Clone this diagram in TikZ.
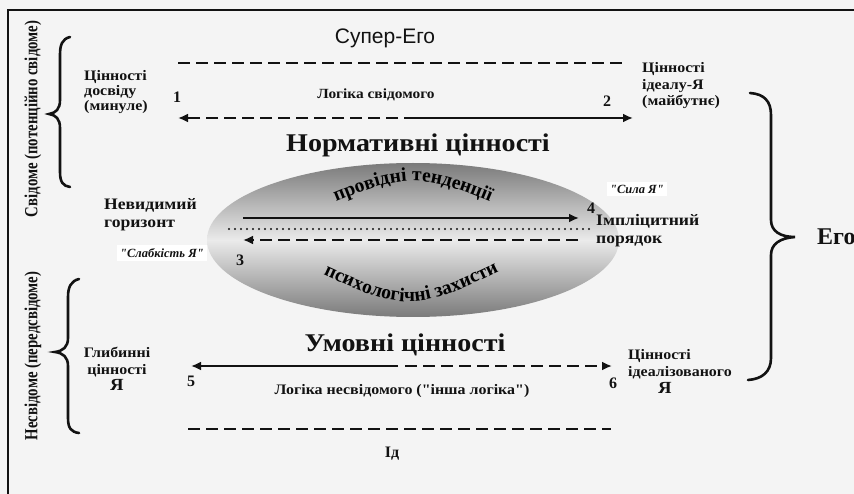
\documentclass[tikz,border=0pt]{standalone}
\usepackage{fontspec}
\setmainfont{Liberation Serif}[Ligatures=TeXOff]
\newfontfamily\sansf{Liberation Sans}[Ligatures=TeXOff]
\newfontfamily\condf{Liberation Serif}[FakeStretch=0.8,Ligatures=TeXOff]
\newfontfamily\widef{Liberation Serif}[FakeStretch=1.1,Ligatures=TeXOff]
\usetikzlibrary{arrows.meta,decorations.text}
\definecolor{bg}{RGB}{244,244,244}
\definecolor{ink}{RGB}{18,18,18}
\begin{document}
\begin{tikzpicture}[x=1pt,y=-1pt,
  every node/.style={inner sep=0pt,text=ink},
  lbl/.style={font=\widef\bfseries\fontsize{14.5}{15}\selectfont},
  mid/.style={font=\widef\bfseries\fontsize{16}{18}\selectfont},
  big/.style={font=\widef\bfseries\fontsize{25.5}{28}\selectfont},
  num/.style={font=\bfseries\fontsize{16}{16}\selectfont},
  ital/.style={font=\bfseries\itshape\fontsize{12.5}{13}\selectfont,fill=white,inner sep=3pt},
  vert/.style={font=\condf\bfseries\fontsize{18.5}{18}\selectfont,rotate=90},
  dsh/.style={draw=ink,line width=2.6pt,dash pattern=on 12pt off 6pt},
  sol/.style={draw=ink,line width=2.2pt},
  arr/.style={-{Latex[length=10pt,width=9pt]}},
  brc/.style={draw=ink,line width=2.6pt,line cap=round}]
\useasboundingbox (0,0) rectangle (854,494);
\fill[bg] (0,0) rectangle (854,494);
\draw[ink,line width=1.5pt] (8,494) -- (8,10) -- (854,10);

% side labels
\node[vert] (cons) at (33,119) {Свідоме (потенційно свідоме)};
\node[vert] (uncons) at (33,356) {Несвідоме (передсвідоме)};

% braces
\draw[brc] (70,37) .. controls (62,39) and (60,45) .. (60,55) -- (60,100)
  .. controls (60,109) and (56,113) .. (49,114)
  .. controls (56,115) and (60,119) .. (60,128) -- (60,172)
  .. controls (60,182) and (63,186) .. (70,187);
\draw[brc] (79,279) .. controls (71,281) and (68,287) .. (68,297) -- (68,338)
  .. controls (68,347) and (63,351) .. (55,352)
  .. controls (63,353) and (68,357) .. (68,366) -- (68,418)
  .. controls (68,428) and (71,432) .. (79,433);
\draw[brc] (750,93) .. controls (764,94) and (771,101) .. (771,115) -- (771,220)
  .. controls (771,231) and (780,237) .. (795,237)
  .. controls (780,238) and (771,244) .. (771,255) -- (771,358)
  .. controls (771,372) and (762,379) .. (748,380);
\node[font=\bfseries\fontsize{24}{24}\selectfont,anchor=west] (ego) at (817,237) {Его};

% top part
\node[font=\sansf\fontsize{21}{21}\selectfont] (super) at (385,38) {Супер-Его};
\coordinate (t1) at (178,63); \coordinate (t2) at (622,63);
\draw[dsh] (t1) -- (t2);
\node[lbl,align=left,anchor=west] (past) at (84,92) {Цінності\\досвіду\\(минуле)};
\node[num] (n1) at (177,97) {1};
\node[font=\widef\bfseries\fontsize{14}{14}\selectfont] (logc) at (376,95) {Логіка свідомого};
\node[num] (n2) at (607,101) {2};
\node[lbl,align=left,anchor=west,font=\widef\bfseries\fontsize{14.5}{16.5}\selectfont] (fut) at (642,86) {Цінності\\ідеалу-Я\\(майбутнє)};
\coordinate (a1) at (178,118); \coordinate (am) at (416,118); \coordinate (a2) at (633,118);
\draw[dsh,arr] (am) -- (a1);
\draw[sol,arr] (am) -- (a2);
\node[big] (norm) at (418,145) {Нормативні цінності};

% ellipse
\shade[top color=black!52,bottom color=black!52,middle color=black!8]
  (413,240) ellipse [x radius=206, y radius=77];
\path[decorate,decoration={text along path,text align=center,
  text={|\bfseries\fontsize{19.5}{19.5}\selectfont|провідні тенденції}}]
  (296,219) .. controls (413,168) .. (530,219);
\path[decorate,decoration={text along path,text align=center,
  text={|\bfseries\fontsize{19.5}{19.5}\selectfont|психологічні захисти}}]
  (292,260) .. controls (410,316) .. (530,256);
\coordinate (m1) at (243,218); \coordinate (m2) at (579,218);
\draw[sol,arr] (m1) -- (m2);
\coordinate (d1) at (229,229); \coordinate (d2) at (592,229);
\draw[ink,line width=2.4pt,line cap=round,dash pattern=on 0pt off 6pt] (d1) -- (d2);
\coordinate (r1) at (578,240); \coordinate (r2) at (243,240);
\draw[dsh,arr] (r1) -- (r2);
\node[mid,align=left,anchor=west] (hor) at (104,215) {Невидимий\\горизонт};
\node[ital] (weak) at (162,253) {"Слабкість Я"};
\node[num] (n3) at (240,260) {3};
\node[num] (n4) at (591,208) {4};
\node[mid,align=left,anchor=west] (impl) at (596,231) {Імпліцитний\\порядок};
\node[ital] (str) at (637,189) {"Сила Я"};

% bottom part
\node[big] (cond) at (405,345) {Умовні цінності};
\coordinate (b1) at (191,366); \coordinate (bm) at (398,366); \coordinate (bn) at (405,366); \coordinate (b2) at (612,366);
\draw[sol,arr] (bm) -- (b1);
\draw[dsh,arr] (bn) -- (b2);
\node[lbl,align=center,font=\widef\bfseries\fontsize{14.5}{16.5}\selectfont] (deep) at (117,369) {Глибинні\\цінності\\{\fontsize{17}{17}\selectfont Я}};
\node[num] (n5) at (191,381) {5};
\node[font=\widef\bfseries\fontsize{14.5}{14.5}\selectfont] (logu) at (402,391) {Логіка несвідомого ("інша логіка")};
\node[num] (n6) at (613,383) {6};
\node[lbl,align=left,anchor=west,font=\widef\bfseries\fontsize{14.5}{17}\selectfont] (ideal) at (628,371) {Цінності\\ідеалізованого\\\hspace*{30pt}{\fontsize{17}{17}\selectfont Я}};
\coordinate (c1) at (188,429); \coordinate (c2) at (611,429);
\draw[dsh] (c1) -- (c2);
\node[num] (id) at (392,454) {Ід};
\end{tikzpicture}
\end{document}
